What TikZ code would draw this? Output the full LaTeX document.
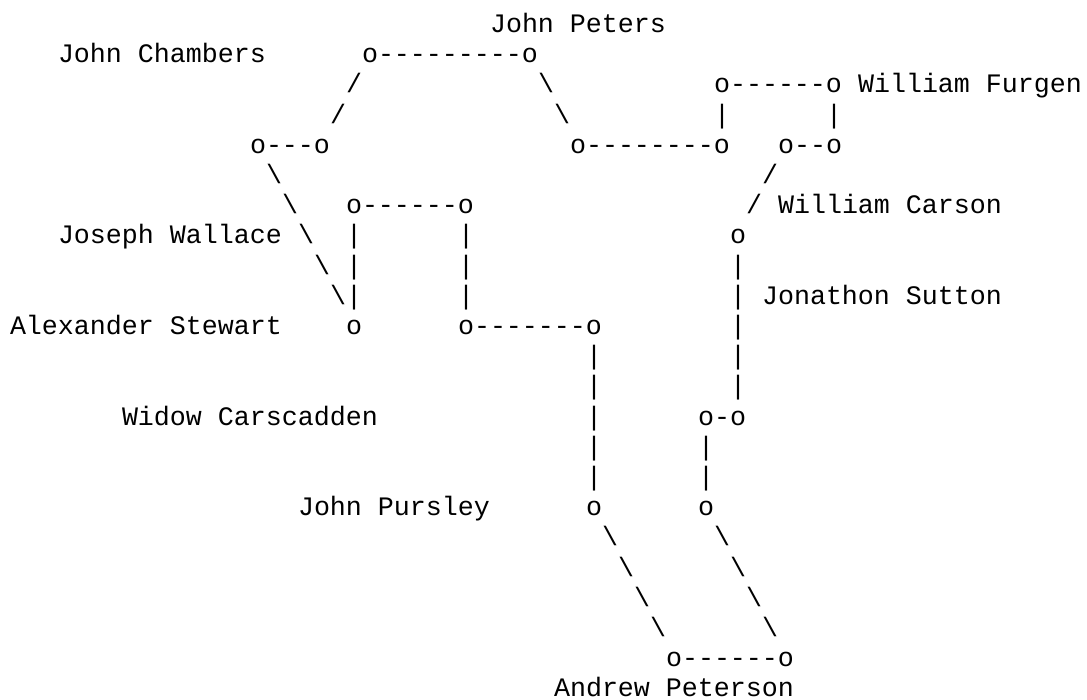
\documentclass[tikz,border=0pt]{standalone}
\usepackage{fontspec}
\setmonofont{Liberation Mono}
\newcommand{\BSL}{\textbackslash}
\tikzset{
  t/.style={anchor=base west, inner sep=0pt, outer sep=0pt, font=\ttfamily\fontsize{26.663pt}{30.2pt}\selectfont, text=black}
}
\begin{document}
\begin{tikzpicture}[x=16pt,y=-30.2pt]
\fill[white] (-0.625,-1.0762) rectangle (67.3125,22.1026);
\useasboundingbox (-0.625,-1.0762) rectangle (67.3125,22.1026);
% row 0
\node[t] (jpeters) at (30,0) {John Peters};
% row 1
\node[t] (jchambers) at (3,1) {John Chambers};
\node[t] (r1a) at (22,1) {o---------o};
% row 2
\node[t] (r2a) at (21,2) {/};
\node[t] (r2b) at (33,2) {\BSL};
\node[t] (r2c) at (44,2) {o------o};
\node[t] (wfurgen) at (53,2) {William Furgen};
% row 3
\node[t] (r3a) at (20,3) {/};
\node[t] (r3b) at (34,3) {\BSL};
\node[t] (r3c) at (44,3) {|};
\node[t] (r3d) at (51,3) {|};
% row 4
\node[t] (r4a) at (15,4) {o---o};
\node[t] (r4b) at (35,4) {o--------o};
\node[t] (r4c) at (48,4) {o--o};
% row 5
\node[t] (r5a) at (16,5) {\BSL};
\node[t] (r5b) at (47,5) {/};
% row 6
\node[t] (r6a) at (17,6) {\BSL};
\node[t] (r6b) at (21,6) {o------o};
\node[t] (r6c) at (46,6) {/};
\node[t] (wcarson) at (48,6) {William Carson};
% row 7
\node[t] (jwallace) at (3,7) {Joseph Wallace};
\node[t] (r7a) at (18,7) {\BSL};
\node[t] (r7b) at (21,7) {|};
\node[t] (r7c) at (28,7) {|};
\node[t] (r7d) at (45,7) {o};
% row 8
\node[t] (r8a) at (19,8) {\BSL};
\node[t] (r8b) at (21,8) {|};
\node[t] (r8c) at (28,8) {|};
\node[t] (r8d) at (45,8) {|};
% row 9
\node[t] (r9a) at (20,9) {\BSL|};
\node[t] (r9b) at (28,9) {|};
\node[t] (r9c) at (45,9) {|};
\node[t] (jsutton) at (47,9) {Jonathon Sutton};
% row 10
\node[t] (astewart) at (0,10) {Alexander Stewart};
\node[t] (r10a) at (21,10) {o};
\node[t] (r10b) at (28,10) {o-------o};
\node[t] (r10c) at (45,10) {|};
% row 11
\node[t] (r11a) at (36,11) {|};
\node[t] (r11b) at (45,11) {|};
% row 12
\node[t] (r12a) at (36,12) {|};
\node[t] (r12b) at (45,12) {|};
% row 13
\node[t] (wcarscadden) at (7,13) {Widow Carscadden};
\node[t] (r13a) at (36,13) {|};
\node[t] (r13b) at (43,13) {o-o};
% row 14
\node[t] (r14a) at (36,14) {|};
\node[t] (r14b) at (43,14) {|};
% row 15
\node[t] (r15a) at (36,15) {|};
\node[t] (r15b) at (43,15) {|};
% row 16
\node[t] (jpursley) at (18,16) {John Pursley};
\node[t] (r16a) at (36,16) {o};
\node[t] (r16b) at (43,16) {o};
% rows 17-20
\node[t] (r17a) at (37,17) {\BSL};
\node[t] (r17b) at (44,17) {\BSL};
\node[t] (r18a) at (38,18) {\BSL};
\node[t] (r18b) at (45,18) {\BSL};
\node[t] (r19a) at (39,19) {\BSL};
\node[t] (r19b) at (46,19) {\BSL};
\node[t] (r20a) at (40,20) {\BSL};
\node[t] (r20b) at (47,20) {\BSL};
% row 21
\node[t] (r21a) at (41,21) {o------o};
% row 22
\node[t] (apeterson) at (34,22) {Andrew Peterson};
\end{tikzpicture}
\end{document}
